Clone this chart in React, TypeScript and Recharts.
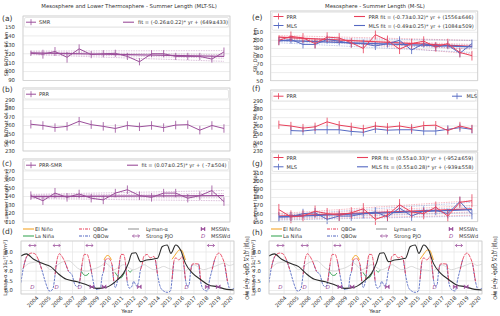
import React from "react";
import { ComposedChart, Line, XAxis, YAxis, CartesianGrid, ErrorBar } from "recharts";

const FONT = "'DejaVu Sans', sans-serif";
const PURPLE = "#9b4e9a";
const RED = "#e8405a";
const BLUE = "#5569c2";
const ORANGE = "#f4a62a";
const GREEN = "#3ea85a";
const GRID = "#e4e4e4";
const TXT = "#333";

// ---- summer length panels (yearly) ----
const years = [2004, 2005, 2006, 2007, 2008, 2009, 2010, 2011, 2012, 2013, 2014, 2015, 2016, 2017, 2018, 2019, 2020];

const smrSB = [120.5, 119.5, 122.5, 116, 125.5, 119, 120, 120.5, 117, 111, 120, 120, 117, 117, 117, 114, 122];
const smrSBErr = [3, 5, 5, 6, 5, 4, 4, 4, 4, 4, 4, 4, 4, 4, 4, 4, 5];
const smrFit = [121, 117];
const smrBands = [[123, 123.5], [122, 119], [120, 115], [119, 111.5]];

const prrSE = [261.5, 260, 257.5, 259, 265, 261, 259, 256.5, 260, 258.5, 260, 257.5, 260.5, 261, 254.5, 260, 256.5];
const prrSEErr = [5, 5, 5, 5, 5, 5, 5, 5, 5, 5, 5, 5, 5, 5, 5, 5, 5];
const mlsSE = [null, 254.5, 254, 255.5, 255.5, 255.5, 253.5, 252.5, 256.5, 255, 255.5, 255.5, 254, 254, 256, 258, 256];
const mlsSEErr = [null, 5, 5, 5, 5, 5, 5, 5, 5, 5, 5, 5, 5, 5, 5, 5, 5];

const mltLen = [141, 135, 144, 139, 143, 138, 136, 144, 148, 141, 139, 144, 144, 138, 141, 147, 134];
const mltLenErr = [5, 5, 6, 5, 5, 5, 5, 5, 5, 5, 5, 5, 5, 5, 5, 6, 5];
const mltFit = [140, 141];
const mltBands = [[142.5, 147], [141.5, 143.5], [138.5, 138.5], [137.5, 135]];

const prrSB = [100, 105, 103, 96, 104, 103, 97, 90, 107, 100, 89, 96, 99, 92, 96, 85, 81];
const prrSBErr = [6, 6, 6, 6, 6, 6, 6, 6, 6, 6, 6, 6, 6, 6, 6, 6, 6];
const mlsSB = [99, 101, 95, 95, 101, 99, 96, 96, 93, 96, 100, 88, 96, 92, 94, 84, 96];
const mlsSBErr = [5, 5, 5, 5, 5, 5, 5, 5, 5, 5, 5, 5, 5, 5, 5, 5, 5];
const prrSBFit = [104, 92.5];
const mlsSBFit = [100, 92];
const prrSBBands = [[106, 100], [103.5, 95], [102, 89], [104.5, 83]];
const mlsSBBands = [[103, 100], [101, 94], [99, 90], [97, 85]];

const prrLen = [165, 156, 157, 163, 160, 158, 161, 166, 153, 158, 171, 162, 160, 168, 157, 174, 176];
const prrLenErr = [7, 8, 7, 7, 7, 7, 7, 7, 7, 7, 7, 7, 7, 7, 7, 7, 8];
const mlsLen = [156, 156, 160, 161, 153, 157, 157, 160, 162, 156, 167, 157, 163, 164, 160, 175, 159];
const mlsLenErr = [6, 6, 6, 6, 6, 6, 6, 6, 6, 6, 6, 6, 6, 6, 6, 6, 6];
const prrLenFit = [157, 166];
const mlsLenFit = [156, 165];
const prrLenBands = [[160, 176], [158, 170], [155, 162], [153, 158]];
const mlsLenBands = [[158, 174], [156, 168], [154, 161], [152, 157]];

// ---- forcing panels (time series) ----
const lymT = [2002.74, 2003.2, 2003.8, 2004.5, 2005.2, 2005.8, 2006.5, 2007.4, 2008.2, 2009.0, 2009.8, 2010.7, 2011.2, 2011.6, 2011.9, 2012.2, 2012.6, 2013.1, 2014.0, 2014.4, 2014.8, 2015.1, 2015.5, 2015.9, 2016.3, 2016.9, 2017.6, 2018.2, 2018.9, 2019.7, 2020.3];
const lymV = [7.79, 7.9, 7.62, 7.41, 7.24, 6.89, 6.58, 6.46, 6.29, 6.11, 6.17, 6.55, 6.89, 7.41, 7.93, 7.96, 7.5, 7.58, 7.67, 8.28, 8.36, 7.93, 8.36, 8.1, 7.41, 6.89, 6.55, 6.29, 6.2, 6.06, 6.03];

const greyT = [2002.75, 2003.0, 2003.5, 2004.3, 2004.8, 2005.2, 2005.6, 2006.0, 2006.7, 2007.1, 2007.4, 2007.8, 2008.2, 2008.6, 2009.0, 2009.4, 2009.7, 2010.0, 2010.4, 2010.8, 2011.2, 2011.6, 2012.0, 2012.5, 2012.9, 2013.3, 2013.7, 2014.1, 2014.5, 2014.9, 2015.3, 2015.8, 2016.2, 2016.6, 2017.0, 2017.4, 2017.8, 2018.2, 2018.7, 2019.1, 2019.5, 2019.9, 2020.3];
const greyV = [7.05, 7.2, 7.43, 7.48, 7.3, 7.08, 7.25, 7.43, 7.55, 7.35, 7.17, 7.05, 7.01, 7.1, 7.17, 7.3, 7.43, 7.3, 7.08, 7.2, 7.34, 7.2, 7.08, 7.2, 7.34, 7.2, 7.08, 7.15, 7.25, 7.15, 7.08, 7.05, 7.0, 7.15, 7.34, 7.2, 7.08, 7.15, 7.25, 7.35, 7.43, 7.3, 7.38];

const qboT = [2002.75, 2002.95, 2003.23, 2003.64, 2003.9, 2004.2, 2004.47, 2004.75, 2005.0, 2005.16, 2005.4, 2005.57, 2005.7, 2005.93, 2006.1, 2006.4, 2006.67, 2006.95, 2007.2, 2007.4, 2007.6, 2007.78, 2007.97, 2008.2, 2008.4, 2008.6, 2008.8, 2009.0, 2009.3, 2009.43, 2009.56, 2009.7, 2009.98, 2010.26, 2010.4, 2010.53, 2010.72, 2010.9, 2011.0, 2011.2, 2011.36, 2011.5, 2011.7, 2011.9, 2012.04, 2012.2, 2012.3, 2012.45, 2012.6, 2012.73, 2012.87, 2013.15, 2013.4, 2013.7, 2013.83, 2014.0, 2014.25, 2014.5, 2014.8, 2015.07, 2015.2, 2015.35, 2015.5, 2015.76, 2016.04, 2016.17, 2016.3, 2016.45, 2016.6, 2016.73, 2016.87, 2017.1, 2017.4, 2017.55, 2017.8, 2018.1, 2018.3, 2018.5, 2018.7, 2019.07, 2019.35, 2019.54, 2019.76, 2020.0, 2020.3];
const qboV = [-2.4, -0.3, 1.4, 1.9, 1.8, 0.9, -0.5, -2.2, -3.4, -3.65, -3.2, -1.2, 0.7, 1.8, 1.5, 0.5, -0.75, -1.2, -2.7, -3.0, -2.2, 0.2, 1.7, 1.7, 0.7, -1.2, -2.9, -3.4, -3.2, -1.5, -0.75, 0.9, 1.1, 0.2, -2.2, -3.1, -1.9, 0.9, 1.7, 1.7, 0.5, -2.2, -3.2, -2.9, -2.2, -2.7, -2.9, -2.2, -0.5, 0.2, 1.4, 1.7, 1.2, 1.4, 0.9, -1.2, -3.1, -3.6, -3.8, -3.6, -1.9, 0.7, 1.2, 0.9, 1.4, 0.2, -1.9, -2.9, -2.7, -0.7, 0.3, 0.35, 0.3, -2.2, -3.4, -3.6, -1.9, -0.5, 0.9, 1.9, 1.2, 0.2, -2.2, -3.4, -3.2];

const nino1T = [2009.6, 2009.75, 2009.9, 2010.05, 2010.2];
const nino1V = [0.9, 1.4, 1.55, 1.4, 0.9];
const nino2T = [2015.2, 2015.4, 2015.6, 2015.8, 2016.0, 2016.15, 2016.3];
const nino2V = [1.0, 1.5, 2.0, 2.35, 2.3, 1.7, 0.9];
const nina1T = [2007.75, 2007.9, 2008.05, 2008.2, 2008.35];
const nina1V = [-0.8, -1.2, -1.35, -1.3, -1.0];
const nina2T = [2010.5, 2010.7, 2010.9, 2011.05, 2011.2, 2011.3];
const nina2V = [-0.9, -1.4, -1.7, -1.65, -1.2, -0.9];
const nina3T = [2011.6, 2011.75, 2011.9];
const nina3V = [-0.6, -0.85, -0.6];

const pjoT = [2003.7, 2005.7, 2008.4, 2018.4];
const msswSplitT = [2008.6, 2009.6, 2012.5, 2018.1, 2019.0];
const msswDisplT = [2003.7, 2005.7, 2007.6, 2016.4];

const tickYears = years;

// ---- helpers ----
type Row = Record<string, number | null>;
const ends = (p: number[]) => years.map((_, i) => (i === 0 ? p[0] : i === years.length - 1 ? p[1] : null));
const table = (cols: Record<string, (number | null)[]>): Row[] =>
  years.map((year, i) => {
    const r: Row = { year };
    for (const k in cols) r[k] = cols[k][i];
    return r;
  });
const pairs = (t: number[], v: (number | null)[]) => t.map((x, i) => ({ t: x, v: v[i] }));
const qboRed = qboV.map((v, i) => (v >= 0 || (qboV[i - 1] ?? -1) >= 0 || (qboV[i + 1] ?? -1) >= 0 ? v : null));
const qboBlue = qboV.map((v, i) => (v < 0 || (qboV[i - 1] ?? 1) < 0 || (qboV[i + 1] ?? 1) < 0 ? v : null));

type Ser = { key: string; color: string; err?: string; w?: number; dash?: string; op?: number };
const X_TOP: [number, number] = [2003.35, 2020.5];
const X_BOT: [number, number] = [2002.76, 2020.3];
const PAD = 5;

function TopPanel(props: { left: number; top: number; height: number; domain: [number, number]; ticks: number[]; rows: Row[]; series: Ser[] }) {
  const yw = 24;
  const w = 207;
  return (
    <div style={{ position: "absolute", left: props.left - yw, top: props.top - PAD }}>
      <ComposedChart width={w + yw + 2} height={props.height + 2 * PAD} data={props.rows} margin={{ top: PAD, right: 2, bottom: PAD, left: 0 }}>
        <CartesianGrid stroke={GRID} strokeWidth={0.7} />
        <XAxis dataKey="year" type="number" domain={X_TOP} ticks={years} interval={0} height={0} tick={false} axisLine={false} tickLine={false} allowDataOverflow />
        <YAxis type="number" domain={props.domain} ticks={props.ticks} interval={0} width={yw} axisLine={false} tickLine={false} tickMargin={2}
          tick={{ fontSize: 5.3, fill: TXT, fontFamily: FONT }} allowDataOverflow />
        {props.series.map((s) => (
          <Line key={s.key} dataKey={s.key} stroke={s.color} strokeWidth={s.w ?? 1} strokeDasharray={s.dash} strokeOpacity={s.op ?? 1}
            dot={false} connectNulls isAnimationActive={false}>
            {s.err ? <ErrorBar dataKey={s.err} width={0} stroke={s.color} strokeWidth={0.8} direction="y" /> : null}
          </Line>
        ))}
      </ComposedChart>
    </div>
  );
}

const bandSeries = (keys: string[], color: string): Ser[] => keys.map((key) => ({ key, color, w: 0.6, dash: "1.5 1", op: 0.6 }));

// tick labels rotated 45°, ending at the tick just under the axis
function YearTick(p: any) {
  const { x, payload } = p;
  const y = 295 - (241 - PAD) + 0.5;
  return (
    <text x={x} y={y} transform={`rotate(-45 ${x} ${y})`} textAnchor="end" dominantBaseline="hanging" fontSize={5.3} fill={TXT} fontFamily={FONT}>
      {payload.value}
    </text>
  );
}

const pjoDot = (p: any) => (
  <path key={`p${p.index}`} d={`M${p.cx - 3.5},${p.cy} L${p.cx + 3.5},${p.cy} M${p.cx - 3.5},${p.cy} l1.6,-1.6 M${p.cx - 3.5},${p.cy} l1.6,1.6 M${p.cx + 3.5},${p.cy} l-1.6,-1.6 M${p.cx + 3.5},${p.cy} l-1.6,1.6`}
    stroke={PURPLE} strokeWidth={0.8} fill="none" />
);
const msDot = (p: any) => (
  <path key={`m${p.index}`} d={`M${p.cx - 2},${p.cy - 2} L${p.cx - 2},${p.cy + 2} L${p.cx + 2},${p.cy - 2} L${p.cx + 2},${p.cy + 2} Z`} fill={PURPLE} stroke={PURPLE} strokeWidth={0.5} />
);
const mdDot = (p: any) => (
  <text key={`d${p.index}`} x={p.cx} y={p.cy} textAnchor="middle" dominantBaseline="central" fontSize={5.5} fontStyle="italic" fill={PURPLE} fontFamily={FONT}>D</text>
);

function ForcingPanel({ left }: { left: number }) {
  const lw = 20, rw = 14, w = 213, h = 53, xh = 30;
  const ln = (data: any[], color: string, width: number, axis: string, dash?: string, key?: string) => (
    <Line key={key} data={data} dataKey="v" yAxisId={axis} stroke={color} strokeWidth={width} strokeDasharray={dash} dot={false} type="monotone" isAnimationActive={false} />
  );
  const flat = (t: number[], v: number) => pairs(t, t.map(() => v));
  return (
    <div style={{ position: "absolute", left: left - lw, top: 241 - PAD }}>
      <ComposedChart width={lw + w + rw} height={h + xh + PAD} margin={{ top: PAD, right: 0, bottom: 0, left: 0 }}>
        <CartesianGrid stroke={GRID} strokeWidth={0.7} yAxisId="l" />
        <XAxis dataKey="t" type="number" domain={X_BOT} ticks={tickYears} interval={0} height={xh} tick={<YearTick />} tickLine={false} axisLine={false} allowDataOverflow />
        <YAxis yAxisId="l" orientation="left" type="number" domain={[5.82, 8.57]} ticks={[6, 6.5, 7, 7.5, 8]} interval={0} width={lw} axisLine={false} tickLine={false} tickMargin={2}
          tickFormatter={(v: number) => v.toFixed(1)} tick={{ fontSize: 5.3, fill: TXT, fontFamily: FONT }} allowDataOverflow />
        <YAxis yAxisId="r" orientation="right" type="number" domain={[-4.04, 3.65]} ticks={[-4, -3, -2, -1, 0, 1, 2, 3]} interval={0} width={rw} axisLine={false} tickLine={false} tickMargin={3}
          tick={{ fontSize: 5.3, fill: TXT, fontFamily: FONT }} allowDataOverflow />
        {ln(pairs(greyT, greyV), "#d6d6d6", 0.9, "l", undefined, "grey")}
        {ln(pairs(qboT, qboBlue), BLUE, 0.9, "r", "2.5 1", "qw")}
        {ln(pairs(qboT, qboRed), RED, 0.9, "r", "4 1", "qe")}
        {ln(pairs(nino1T, nino1V), ORANGE, 1, "r", undefined, "n1")}
        {ln(pairs(nino2T, nino2V), ORANGE, 1, "r", undefined, "n2")}
        {ln(pairs(nina1T, nina1V), GREEN, 1, "r", undefined, "g1")}
        {ln(pairs(nina2T, nina2V), GREEN, 1, "r", undefined, "g2")}
        {ln(pairs(nina3T, nina3V), GREEN, 1, "r", undefined, "g3")}
        {ln(pairs(lymT, lymV), "#2b2b2b", 1.1, "l", undefined, "lym")}
        <Line data={flat(pjoT, 3)} dataKey="v" yAxisId="r" stroke="none" dot={pjoDot} isAnimationActive={false} />
        <Line data={flat(msswSplitT, -3)} dataKey="v" yAxisId="r" stroke="none" dot={msDot} isAnimationActive={false} />
        <Line data={flat(msswDisplT, -3)} dataKey="v" yAxisId="r" stroke="none" dot={mdDot} isAnimationActive={false} />
      </ComposedChart>
    </div>
  );
}

// ---- overlay helpers ----
const T = (x: number, y: number, s: string, size = 5.1, anchor: "start" | "middle" | "end" = "start", rot?: number) => (
  <text x={x} y={y} fontSize={size} textAnchor={anchor} dominantBaseline="central" fill={TXT} fontFamily={FONT}
    transform={rot !== undefined ? `rotate(${rot} ${x} ${y})` : undefined}>{s}</text>
);
const ErrMark = (x: number, y: number, c: string) => (
  <g>
    <line x1={x} x2={x + 10} y1={y} y2={y} stroke={c} strokeWidth={1} />
    <line x1={x + 5} x2={x + 5} y1={y - 3} y2={y + 3} stroke={c} strokeWidth={0.8} />
  </g>
);
const LineMark = (x: number, y: number, c: string, dash?: string) => <line x1={x} x2={x + 11} y1={y} y2={y} stroke={c} strokeWidth={1.1} strokeDasharray={dash} />;
const Box = (x: number, y: number, w: number, h: number) => <rect x={x} y={y} width={w} height={h} rx={1.5} fill="#fff" fillOpacity={0.9} stroke="#d6d6d6" strokeWidth={0.6} />;
const Frame = (x: number, y: number, w: number, h: number) => <rect x={x} y={y} width={w} height={h} fill="none" stroke="#cccccc" strokeWidth={0.7} />;

function ForcingLegend({ dx }: { dx: number }) {
  const r1 = 229, r2 = 236;
  return (
    <g>
      {LineMark(23 + dx, r1, ORANGE)}{T(35 + dx, r1, "El Niño")}
      {LineMark(23 + dx, r2, GREEN)}{T(35 + dx, r2, "La Niña")}
      {LineMark(79 + dx, r1, RED, "3 1 1 1")}{T(93 + dx, r1, "QBOe")}
      {LineMark(79 + dx, r2, BLUE, "3 1 1 1")}{T(93 + dx, r2, "QBOw")}
      {LineMark(128 + dx, r1, "#999")}{T(146 + dx, r1, "Lyman-α")}
      {pjoDot({ cx: 136 + dx, cy: r2, index: 0 })}{T(146 + dx, r2, "Strong PJO")}
      {msDot({ cx: 203 + dx, cy: r1, index: 0 })}{T(211 + dx, r1, "MSSWs")}
      {mdDot({ cx: 203 + dx, cy: r2, index: 0 })}{T(211 + dx, r2, "MSSWd")}
    </g>
  );
}

export default function App() {
  const aRows = table({ smr: smrSB, smrErr: smrSBErr, fit: ends(smrFit), b0: ends(smrBands[0]), b1: ends(smrBands[1]), b2: ends(smrBands[2]), b3: ends(smrBands[3]) });
  const bRows = table({ prr: prrSE, prrErr: prrSEErr });
  const cRows = table({ len: mltLen, lenErr: mltLenErr, fit: ends(mltFit), b0: ends(mltBands[0]), b1: ends(mltBands[1]), b2: ends(mltBands[2]), b3: ends(mltBands[3]) });
  const eRows = table({
    prr: prrSB, prrErr: prrSBErr, mls: mlsSB, mlsErr: mlsSBErr, pf: ends(prrSBFit), mf: ends(mlsSBFit),
    r0: ends(prrSBBands[0]), r1: ends(prrSBBands[1]), r2: ends(prrSBBands[2]), r3: ends(prrSBBands[3]),
    m0: ends(mlsSBBands[0]), m1: ends(mlsSBBands[1]), m2: ends(mlsSBBands[2]), m3: ends(mlsSBBands[3]),
  });
  const fRows = table({ prr: prrSE, prrErr: prrSEErr, mls: mlsSE, mlsErr: mlsSEErr });
  const gRows = table({
    prr: prrLen, prrErr: prrLenErr, mls: mlsLen, mlsErr: mlsLenErr, pf: ends(prrLenFit), mf: ends(mlsLenFit),
    r0: ends(prrLenBands[0]), r1: ends(prrLenBands[1]), r2: ends(prrLenBands[2]), r3: ends(prrLenBands[3]),
    m0: ends(mlsLenBands[0]), m1: ends(mlsLenBands[1]), m2: ends(mlsLenBands[2]), m3: ends(mlsLenBands[3]),
  });
  const bands = ["b0", "b1", "b2", "b3"];
  const rb = ["r0", "r1", "r2", "r3"];
  const mb = ["m0", "m1", "m2", "m3"];
  const L = 23, R = 270.5;

  return (
    <div style={{ position: "fixed", left: 0, top: 0, width: 500, height: 316, background: "#fff", fontFamily: FONT, overflow: "hidden" }}>
      <TopPanel left={L} top={16} height={64.5} domain={[90, 162.3]} ticks={[90, 100, 110, 120, 130, 140, 150]} rows={aRows}
        series={[...bandSeries(bands, PURPLE), { key: "fit", color: PURPLE, w: 1.4 }, { key: "smr", color: PURPLE, err: "smrErr", w: 1 }]} />
      <TopPanel left={L} top={88} height={63} domain={[230, 304.1]} ticks={[230, 240, 250, 260, 270, 280, 290]} rows={bRows}
        series={[{ key: "prr", color: PURPLE, err: "prrErr", w: 1 }]} />
      <TopPanel left={L} top={159} height={63} domain={[110, 184.1]} ticks={[110, 120, 130, 140, 150, 160, 170]} rows={cRows}
        series={[...bandSeries(bands, PURPLE), { key: "fit", color: PURPLE, w: 1.4 }, { key: "len", color: PURPLE, err: "lenErr", w: 1 }]} />
      <TopPanel left={R} top={11} height={69.7} domain={[50, 136.4]} ticks={[50, 60, 70, 80, 90, 100, 110]} rows={eRows}
        series={[...bandSeries(rb, RED), ...bandSeries(mb, BLUE), { key: "pf", color: RED, w: 1.3 }, { key: "mf", color: BLUE, w: 1.3 },
          { key: "mls", color: BLUE, err: "mlsErr", w: 1 }, { key: "prr", color: RED, err: "prrErr", w: 1 }]} />
      <TopPanel left={R} top={90} height={61} domain={[230, 303.2]} ticks={[230, 240, 250, 260, 270, 280, 290]} rows={fRows}
        series={[{ key: "mls", color: BLUE, err: "mlsErr", w: 1 }, { key: "prr", color: RED, err: "prrErr", w: 1 }]} />
      <TopPanel left={R} top={152} height={69.7} domain={[150, 236.4]} ticks={[150, 160, 170, 180, 190, 200, 210]} rows={gRows}
        series={[...bandSeries(rb, RED), ...bandSeries(mb, BLUE), { key: "pf", color: RED, w: 1.3 }, { key: "mf", color: BLUE, w: 1.3 },
          { key: "mls", color: BLUE, err: "mlsErr", w: 1 }, { key: "prr", color: RED, err: "prrErr", w: 1 }]} />

      <ForcingPanel left={21} />
      <ForcingPanel left={269} />

      <svg width={500} height={316} style={{ position: "absolute", left: 0, top: 0, pointerEvents: "none" }}>
        {T(129, 6, "Mesosphere and Lower Thermosphere - Summer Length (MLT-SL)", 5.4, "middle")}
        {T(375, 6, "Mesosphere - Summer Length (M-SL)", 5.4, "middle")}

        {Frame(L, 16, 207, 64.5)}{Frame(L, 88, 207, 63)}{Frame(L, 159, 207, 63)}
        {Frame(R, 11, 207, 69.7)}{Frame(R, 90, 207, 61)}{Frame(R, 152, 207, 69.7)}
        {Frame(21, 241, 213, 53)}{Frame(269, 241, 213, 53)}

        {T(2, 18, "(a)", 7.5)}{T(2, 89.5, "(b)", 7.5)}{T(2, 163, "(c)", 7.5)}{T(2, 231.5, "(d)", 7.5)}
        {T(252, 17, "(e)", 7.5)}{T(252, 88, "(f)", 7.5)}{T(252, 163, "(g)", 7.5)}{T(252, 232, "(h)", 7.5)}

        {Box(L + 1.5, 17.5, 204, 9.5)}{ErrMark(L + 3, 22.2, PURPLE)}{T(L + 16, 22.2, "SMR")}
        {LineMark(123, 22.2, PURPLE)}{T(138, 22.2, "fit = (-0.26±0.22)* yr + (649±433)")}
        {Box(L + 1.5, 89.5, 204, 9.5)}{ErrMark(L + 3, 94.2, PURPLE)}{T(L + 16, 94.2, "PRR")}
        {Box(L + 1.5, 160.5, 204, 9.5)}{ErrMark(L + 3, 165.2, PURPLE)}{T(L + 16, 165.2, "PRR-SMR")}
        {LineMark(127, 165.2, PURPLE)}{T(141.5, 165.2, "fit = (0.07±0.25)* yr + ( -7±504)")}

        {Box(R + 1.5, 12.2, 204, 18)}{ErrMark(R + 3, 16.5, RED)}{T(R + 16, 16.5, "PRR")}{ErrMark(R + 3, 25.5, BLUE)}{T(R + 16, 25.5, "MLS")}
        {LineMark(354, 16.5, RED)}{T(368.5, 16.5, "PRR fit = (-0.73±0.32)* yr + (1556±646)")}
        {LineMark(354, 25.5, BLUE)}{T(368.5, 25.5, "MLS fit = (-0.49±0.25)* yr + (1084±509)")}
        {Box(R + 1.5, 91.5, 204, 9.5)}{ErrMark(R + 3, 96.2, RED)}{T(R + 16, 96.2, "PRR")}
        {ErrMark(452, 96.2, BLUE)}{T(466.5, 96.2, "MLS")}
        {Box(R + 1.5, 153, 204, 18.5)}{ErrMark(R + 3, 157.5, RED)}{T(R + 16, 157.5, "PRR")}{ErrMark(R + 3, 166.8, BLUE)}{T(R + 16, 166.8, "MLS")}
        {LineMark(357, 157.5, RED)}{T(371.5, 157.5, "PRR fit = (0.55±0.33)* yr + (-952±659)")}
        {LineMark(357, 166.8, BLUE)}{T(371.5, 166.8, "MLS fit = (0.55±0.28)* yr + (-939±558)")}

        {T(6, 54, "SB: DOY at 96 km", 5, "middle", -90)}
        {T(6, 125, "SE: DOY at 74 km", 5, "middle", -90)}
        {T(6, 196, "Summer length [day]", 5, "middle", -90)}
        {T(255, 50, "SB: DOY at 74 km", 5, "middle", -90)}
        {T(255, 126, "SE: DOY at 74 km", 5, "middle", -90)}
        {T(255, 197, "Summer length [day]", 5, "middle", -90)}

        <ForcingLegend dx={0} />
        <ForcingLegend dx={248} />
        {T(5, 268, "Lyman-α ×10⁻³[W/m²]", 5, "middle", -90)}
        {T(253, 268, "Lyman-α ×10⁻³[W/m²]", 5, "middle", -90)}
        {T(246.5, 268, "ONI [°C] · QBO ×10 [m/s]", 5, "middle", -90)}
        {T(495, 268, "ONI [°C] · QBO ×10 [m/s]", 5, "middle", -90)}
        {T(127, 311, "Year", 5.4, "middle")}
        {T(375, 311, "Year", 5.4, "middle")}
      </svg>
    </div>
  );
}
